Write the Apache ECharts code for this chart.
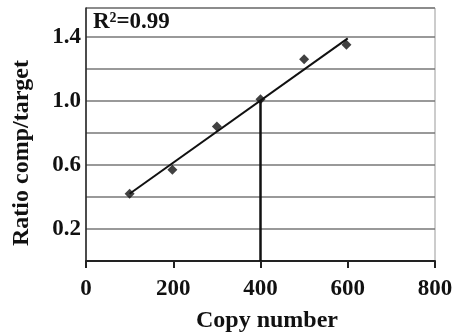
<!DOCTYPE html>
<html><head><meta charset="utf-8">
<script src="https://cdn.jsdelivr.net/npm/echarts@6/dist/echarts.min.js"></script>
<style>html,body{margin:0;padding:0;background:#fff}#c{width:462px;height:336px}</style>
</head><body><div id="c"></div>
<script>
const copyNumber = [100, 198, 300, 400, 500, 597];
const ratio = [0.42, 0.57, 0.84, 1.01, 1.26, 1.35];
const fitX = [100, 600];
const fitY = [0.42, 1.39];
const refX = [400, 400];
const refY = [0, 1.0];
const yTickLabels = ['0.2', '0.6', '1.0', '1.4'];
const xTickLabels = ['0', '200', '400', '600', '800'];
const rText = 'R\u00B2=0.99';
const xTitle = 'Copy number';
const yTitle = 'Ratio comp/target';

const FONT = 'Liberation Serif';
const txt = (size) => ({ fontFamily: FONT, fontWeight: 'bold', fontSize: size, color: '#111' });
const chart = echarts.init(document.getElementById('c'));
chart.setOption({
  backgroundColor: '#fff',
  animation: false,
  grid: { left: 86, right: 27, top: 8, bottom: 75, show: true, borderColor: '#999', borderWidth: 1 },
  title: {
    text: rText, left: 93, top: 11, padding: 0,
    textStyle: txt(23)
  },
  graphic: [
    { type: 'text', x: 267, y: 321, style: Object.assign({ text: xTitle, textAlign: 'center', textVerticalAlign: 'middle' }, { font: 'bold 24px "Liberation Serif"', fill: '#111' }) },
    { type: 'text', x: 22, y: 153, rotation: Math.PI / 2, style: { text: yTitle, textAlign: 'center', textVerticalAlign: 'middle', font: 'bold 24px "Liberation Serif"', fill: '#111' } }
  ],
  xAxis: {
    type: 'value', min: 0, max: 800, interval: 200,
    axisLine: { show: true, lineStyle: { color: '#222', width: 2 } },
    axisTick: { show: true, length: 7, lineStyle: { color: '#222', width: 2 } },
    axisLabel: Object.assign(txt(23), { margin: 17,
      formatter: v => xTickLabels.includes(String(Math.round(v))) ? String(Math.round(v)) : '' }),
    splitLine: { show: false }
  },
  yAxis: {
    type: 'value', min: 0, max: 1.58, interval: 0.2,
    axisLine: { show: true, lineStyle: { color: '#222', width: 1.5 } },
    axisTick: { show: false },
    axisLabel: Object.assign(txt(23), { margin: 5, showMaxLabel: false,
      formatter: v => { const s = (Math.round(v * 10) / 10).toFixed(1); return yTickLabels.includes(s) ? s : ''; } }),
    splitLine: { show: true, lineStyle: { color: '#777', width: 1.5 } }
  },
  series: [
    { type: 'line', data: refX.map((x, i) => [x, refY[i]]), symbol: 'none',
      lineStyle: { color: '#111', width: 2.5 }, z: 3 },
    { type: 'line', data: fitX.map((x, i) => [x, fitY[i]]), symbol: 'none',
      lineStyle: { color: '#111', width: 2 }, z: 3 },
    { type: 'scatter', data: copyNumber.map((x, i) => [x, ratio[i]]), symbol: 'diamond', symbolSize: 10,
      itemStyle: { color: '#111' }, z: 4 }
  ]
});
</script></body></html>
